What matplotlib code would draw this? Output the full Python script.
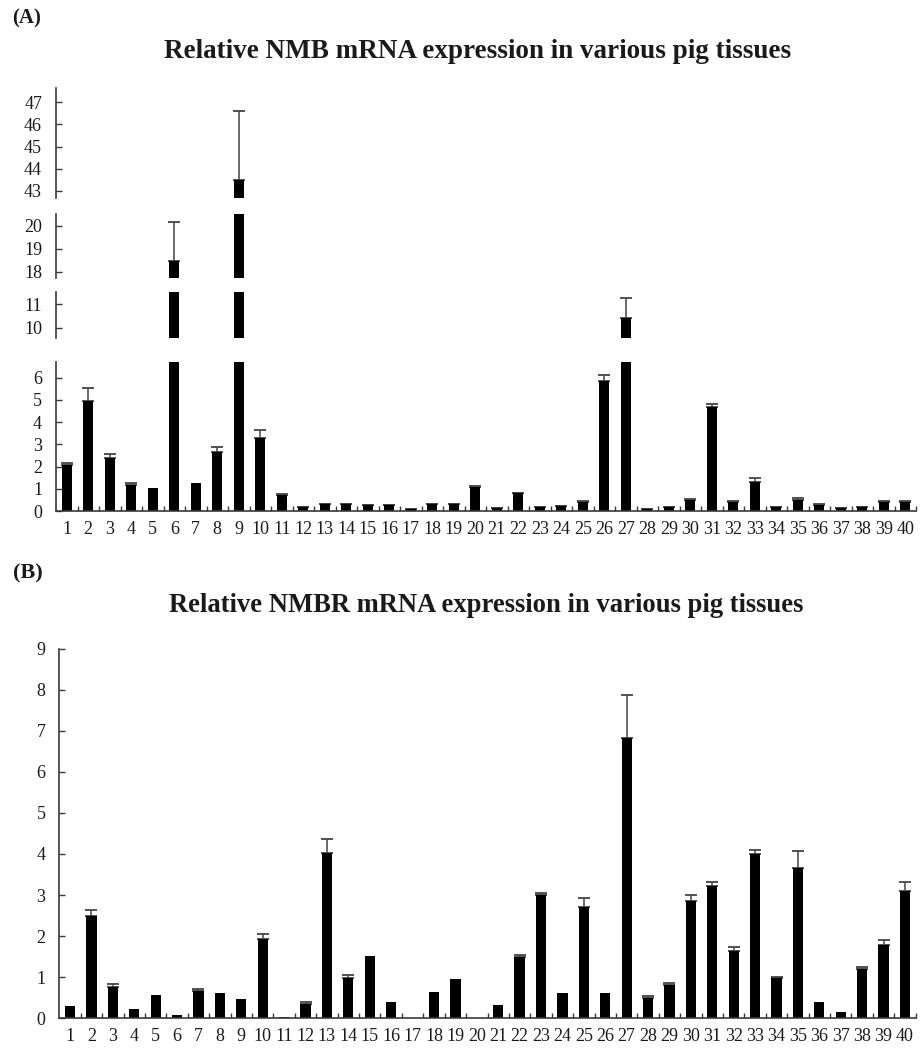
import matplotlib
matplotlib.use('Agg')
import matplotlib.pyplot as plt
import numpy as np

plt.rcParams['font.family'] = ['Liberation Serif', 'DejaVu Serif']

# ---------------- data ----------------
tissues = list(range(1, 41))

nmb_mean = [2.05, 4.95, 2.37, 1.17, 1.02, 18.47, 1.25, 2.67, 43.5, 3.27,
            0.72, 0.18, 0.30, 0.30, 0.25, 0.25, 0.08, 0.30, 0.30, 1.08,
            0.12, 0.80, 0.18, 0.22, 0.42, 5.87, 10.40, 0.07, 0.18, 0.48,
            4.70, 0.42, 1.32, 0.18, 0.48, 0.28, 0.12, 0.18, 0.42, 0.42]
nmb_err = [0.10, 0.60, 0.18, 0.10, 0.00, 1.68, 0.00, 0.22, 3.12, 0.38,
           0.04, 0.02, 0.03, 0.03, 0.02, 0.02, 0.01, 0.03, 0.03, 0.06,
           0.01, 0.03, 0.02, 0.02, 0.04, 0.26, 0.86, 0.01, 0.02, 0.04,
           0.10, 0.03, 0.15, 0.02, 0.10, 0.03, 0.02, 0.02, 0.03, 0.04]

nmbr_mean = [0.31, 2.50, 0.75, 0.22, 0.56, 0.07, 0.67, 0.62, 0.48, 1.92,
             0.03, 0.35, 4.03, 0.97, 1.52, 0.39, 0.00, 0.64, 0.95, 0.00,
             0.32, 1.48, 3.00, 0.61, 2.70, 0.61, 6.82, 0.50, 0.82, 2.85,
             3.23, 1.65, 4.00, 0.97, 3.66, 0.39, 0.15, 1.20, 1.78, 3.10]
nmbr_err = [0.00, 0.13, 0.09, 0.00, 0.00, 0.00, 0.05, 0.00, 0.00, 0.14,
            0.00, 0.05, 0.34, 0.08, 0.00, 0.00, 0.00, 0.00, 0.00, 0.00,
            0.00, 0.05, 0.04, 0.00, 0.23, 0.00, 1.04, 0.04, 0.04, 0.15,
            0.08, 0.09, 0.09, 0.04, 0.40, 0.00, 0.00, 0.04, 0.13, 0.22]

title_a = "Relative NMB mRNA expression in various pig tissues"
title_b = "Relative NMBR mRNA expression in various pig tissues"

# ---------------- figure ----------------
W, H = 924, 1049
fig = plt.figure(figsize=(W / 100, H / 100), dpi=100)
fig.patch.set_facecolor('white')

SPINE = '#3a3a3a'
TXT = '#1a1a1a'
BARW = 0.48
TICKFS = 13


def add_ax(left, top, right, bottom):
    return fig.add_axes([left / W, 1 - bottom / H, (right - left) / W, (bottom - top) / H])


def draw_bars(ax, mean, err):
    x = np.array(tissues)
    m = np.array(mean)
    e = np.array(err)
    ax.bar(x, m, width=BARW, color='black', zorder=2)
    mask = e > 0
    ax.errorbar(x[mask], m[mask], yerr=[np.zeros(mask.sum()), e[mask]],
                fmt='none', ecolor='#444444', elinewidth=1.1, capsize=4.3,
                capthick=1.3, zorder=1)
    ax.set_xlim(0.5, 40.5)


def style_y(ax, ticks):
    ax.set_yticks(ticks)
    ax.set_yticklabels([str(t) for t in ticks], fontsize=TICKFS, color=TXT)
    ax.tick_params(axis='y', direction='in', length=4.5, width=1.0,
                   color=SPINE, pad=10)
    for s in ['top', 'right']:
        ax.spines[s].set_visible(False)
    ax.spines['left'].set_color(SPINE)
    ax.spines['left'].set_linewidth(1.2)


def style_x(ax, show):
    if show:
        ax.set_xticks(tissues)
        ax.set_xticklabels([str(t) for t in tissues], fontsize=TICKFS, color=TXT)
        ax.tick_params(axis='x', which='major', length=0, pad=7)
        ax.set_xticks(np.arange(1.5, 41, 1.0), minor=True)
        ax.tick_params(axis='x', which='minor', direction='in', length=3.5,
                       width=1.0, color=SPINE)
        ax.spines['bottom'].set_color(SPINE)
        ax.spines['bottom'].set_linewidth(1.2)
    else:
        ax.set_xticks([])
        ax.spines['bottom'].set_visible(False)
    ax.patch.set_alpha(0)


# ---- Panel A: broken axis with four segments ----
# (top px, bottom px, ymin, ymax, ticks)
segments = [
    (361.7, 511.0, 0.0, 6.725, [0, 1, 2, 3, 4, 5, 6]),
    (292.3, 338.3, 9.55, 11.51, [10, 11]),
    (214.3, 278.3, 17.71, 20.50, [18, 19, 20]),
    (88.3, 198.3, 42.67, 47.63, [43, 44, 45, 46, 47]),
]
for i, (top, bot, y0, y1, ticks) in enumerate(segments):
    ax = add_ax(56, top, 916, bot)
    draw_bars(ax, nmb_mean, nmb_err)
    ax.set_ylim(y0, y1)
    style_y(ax, ticks)
    style_x(ax, i == 0)

# ---- Panel B ----
axb = add_ax(59.3, 648.5, 915.7, 1018.3)
draw_bars(axb, nmbr_mean, nmbr_err)
axb.set_ylim(0, 9)
style_y(axb, list(range(0, 10)))
style_x(axb, True)

# ---- titles and panel letters ----
ta = fig.text(478 / W, 1 - 52 / H, title_a, ha='center', va='center',
              fontsize=15, fontweight='bold', color=TXT)
tb = fig.text(486 / W, 1 - 606 / H, title_b, ha='center', va='center',
              fontsize=15, fontweight='bold', color=TXT)
fig.text(12 / W, 1 - 18 / H, '(A)', ha='left', va='center', fontsize=15,
         fontweight='bold', color=TXT)
fig.text(13 / W, 1 - 573 / H, '(B)', ha='left', va='center', fontsize=16,
         fontweight='bold', color=TXT)

# fit title widths to the reference
fig.canvas.draw()
r = fig.canvas.get_renderer()
for t, target in [(ta, 630), (tb, 636)]:
    w = t.get_window_extent(r).width
    t.set_fontsize(t.get_fontsize() * target / w)

fig.savefig('out.png', dpi=100, facecolor='white')
